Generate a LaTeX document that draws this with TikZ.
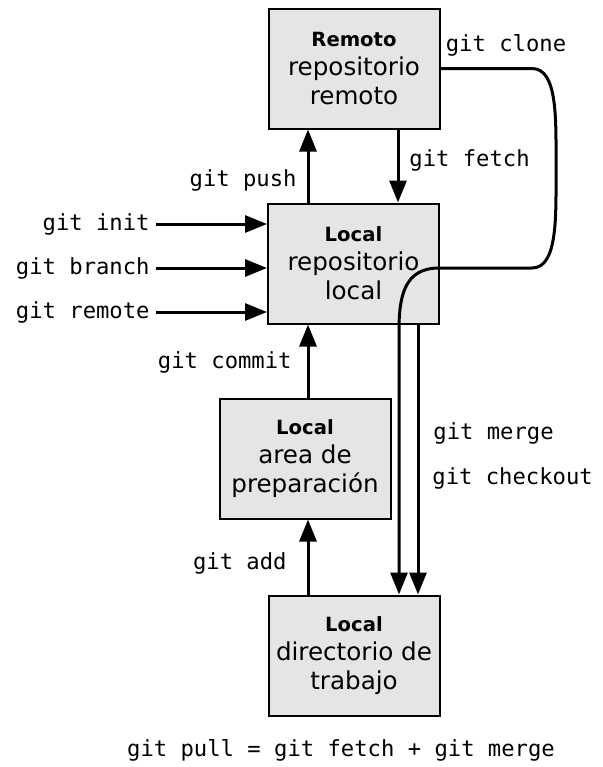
\documentclass[tikz,border=0pt]{standalone}
\usepackage{fontspec}
\setmainfont{DejaVu Sans}
\setmonofont{DejaVu Sans Mono}
\usetikzlibrary{arrows.meta}
\definecolor{boxgray}{RGB}{229,229,229}
\newcommand{\boxtitle}[1]{{\bfseries\fontsize{9.8}{14}\selectfont #1}}
\begin{document}
\begin{tikzpicture}[x=0.5pt,y=-0.5pt,
  area/.style={draw=black,line width=1pt,fill=boxgray,minimum width=85.5pt,minimum height=60pt,
    inner sep=0pt,align=center,font=\fontsize{12.3}{14.5}\selectfont},
  cmd/.style={font=\ttfamily\fontsize{11.1}{13}\selectfont,inner sep=0pt},
  arr/.style={line width=1.5pt,-{Triangle[length=11pt,width=8.5pt]}}]
\useasboundingbox (0,0) rectangle (602,767);

\node[area] (remote) at (354,68.5) {\boxtitle{Remoto}\\repositorio\\remoto};
\node[area] (repo) at (353.5,263.5) {\boxtitle{Local}\\repositorio\\local};
\node[area] (stage) at (305,458.5) {\boxtitle{Local}\\area de\\preparación};
\node[area] (work) at (354,655.5) {\boxtitle{Local}\\directorio de\\trabajo};

\coordinate (xmid) at (308,0);
\coordinate (xfetch) at (398,0);
\coordinate (xclone) at (399,0);
\coordinate (xmerge) at (418,0);

\draw[arr] (xmid |- repo.north) -- (xmid |- remote.south);
\draw[arr] (xfetch |- remote.south) -- (xfetch |- repo.north);
\draw[arr] (xmid |- stage.north) -- (xmid |- repo.south);
\draw[arr] (xmid |- work.north) -- (xmid |- stage.south);
\draw[arr] (xmerge |- repo.south) -- (xmerge |- work.north);

\node[cmd,anchor=east] (init) at (150,224) {git init};
\node[cmd,anchor=east] (branch) at (150,268) {git branch};
\node[cmd,anchor=east] (remotecmd) at (150,312) {git remote};
\draw[arr] ([xshift=3pt]init.east) -- (init.east -| repo.west);
\draw[arr] ([xshift=3pt]branch.east) -- (branch.east -| repo.west);
\draw[arr] ([xshift=3pt]remotecmd.east) -- (remotecmd.east -| repo.west);

\draw[arr] (remote.east) -- (532,68.5) .. controls (558,68.5) and (556,120) .. (556,168)
  .. controls (556,216) and (558,268) .. (532,268) -- (439,268)
  .. controls (405,268) and (399,295) .. (399,330) -- (xclone |- work.north);

\node[cmd] (clonelbl) at (506,45) {git clone};
\node[cmd,anchor=west] (fetchlbl) at (409,160) {git fetch};
\node[cmd,anchor=east] (pushlbl) at (297,180) {git push};
\node[cmd,anchor=east] (commitlbl) at (292,362) {git commit};
\node[cmd,anchor=east] (addlbl) at (287,563) {git add};
\node[cmd,anchor=west] (mergelbl) at (433,433) {git merge};
\node[cmd,anchor=west] (checkoutlbl) at (432,478) {git checkout};
\node[cmd] (pull) at (341,750) {git pull = git fetch + git merge};
\end{tikzpicture}
\end{document}
